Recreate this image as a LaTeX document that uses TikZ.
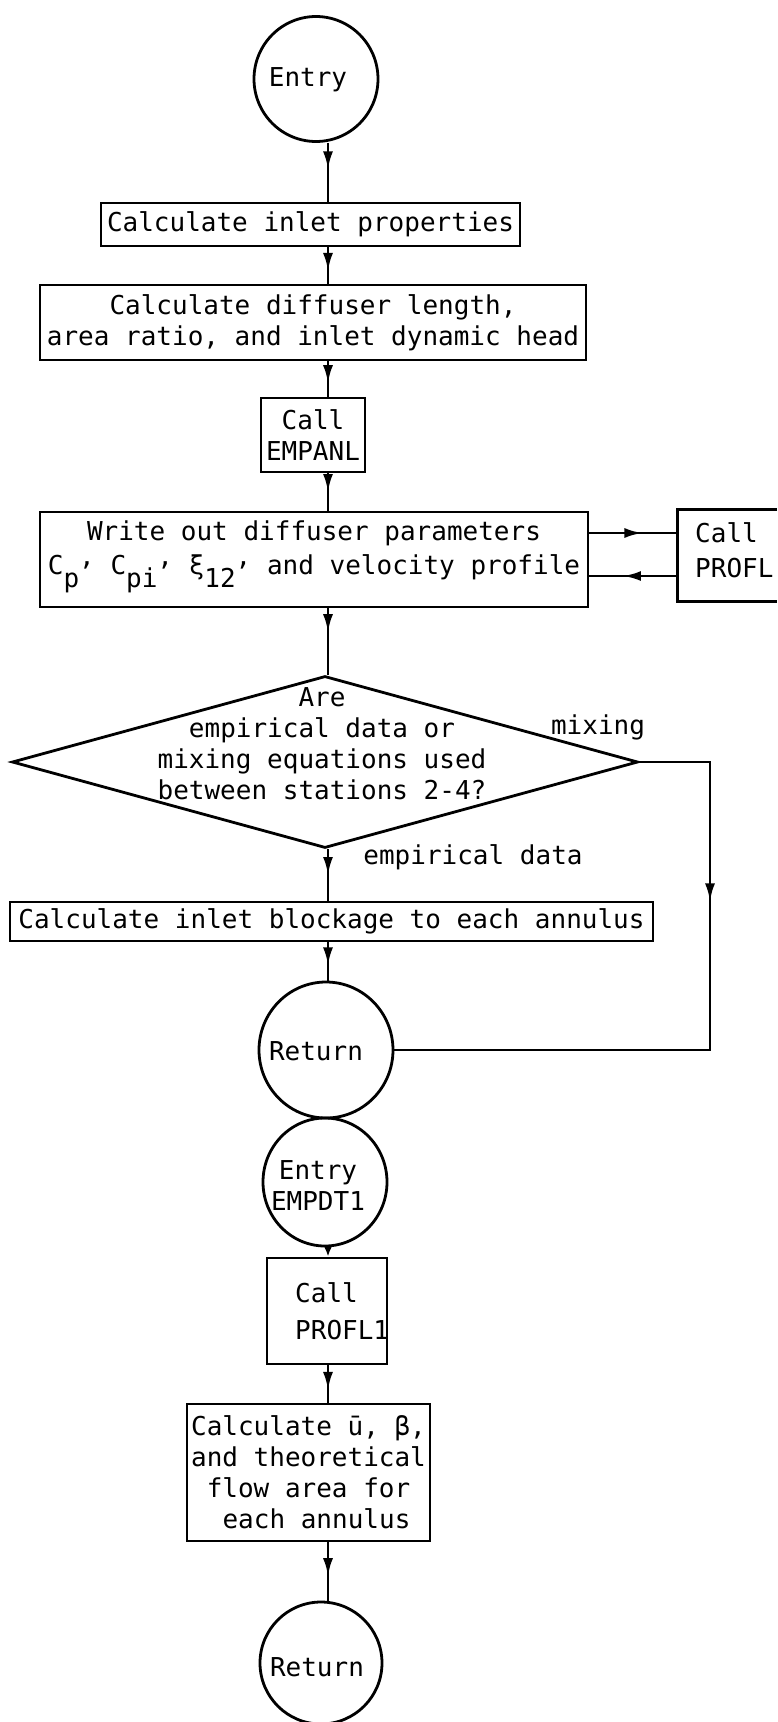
\documentclass[tikz,border=0pt]{standalone}
\usepackage{fontspec}
\setmonofont{DejaVu Sans Mono}
\usetikzlibrary{shapes.geometric,decorations.markings,arrows.meta}
\tikzset{
  txt/.style={font=\ttfamily\fontsize{26}{31}\selectfont, inner sep=0pt, align=center},
  box/.style={txt, draw, line width=2.8pt},
  openbox/.style={txt, minimum width=99pt, minimum height=91pt},
  term/.style={draw, ellipse, line width=2.8pt, inner sep=0pt},
  decis/.style={draw, diamond, line width=2.8pt, inner sep=0pt},
  conn/.style={line width=2.8pt},
  midarrow/.style={decoration={markings, mark=at position #1 with {\arrow{Latex[length=18pt,width=10pt]}}}, postaction={decorate}},
}
\newcommand{\sbx}[1]{\smash{\raisebox{-13pt}{#1}}}
\newcommand{\hcomma}{\raisebox{9pt}{,}}
\begin{document}
\begin{tikzpicture}[x=1pt,y=-1pt]
\useasboundingbox (0,0) rectangle (777,1722);
\coordinate (spine) at (328,0);
\coordinate (rx) at (710,0);
\coordinate (ua) at (0,533);
\coordinate (la) at (0,576);
% nodes
\node[term, minimum width=124pt, minimum height=125pt] (entry) at (316,79) {};
\node[txt] (entryt) at (308,80) {Entry};
\node[box, minimum width=419pt, minimum height=43pt] (b1) at (310.5,224.5) {Calculate inlet properties};
\node[box, minimum width=546pt, minimum height=75pt] (b2) at (313,322.5) {Calculate diffuser length,\\area ratio, and inlet dynamic head};
\node[box, minimum width=104pt, minimum height=74pt] (b3) at (313,435) {Call\\EMPANL};
\node[box, minimum width=548pt, minimum height=95pt] (b4) at (314,559.5) {};
\node[txt] (b4t) at (314,550) {Write out diffuser parameters\\[3pt]C\sbx{p}\hcomma{} C\sbx{pi}\hcomma{} ξ\sbx{12}\hcomma{} and velocity profile};
\node[openbox] (profl) at (727.5,555.5) {};
\draw[line width=2.8pt] (profl.north east) -- (profl.north west) -- (profl.south west) -- (profl.south east);
\node[txt, align=left, anchor=west] (proflt) at (695,550) {Call\\[4pt]PROFL};
\node[decis, minimum width=626pt, minimum height=172pt] (dec) at (325,762) {};
\node[txt] (dect) at (322,744) {Are\\empirical data or\\mixing equations used\\between stations 2-4?};
\node[txt] (mixl) at (598,727) {mixing};
\node[txt] (empl) at (473,857) {empirical data};
\node[box, minimum width=643pt, minimum height=39pt] (b5) at (331.5,921.5) {Calculate inlet blockage to each annulus};
\node[term, minimum width=134pt, minimum height=136pt] (ret1) at (326,1050) {};
\node[txt] (ret1t) at (316,1051) {Return};
\node[term, minimum width=124pt, minimum height=128pt] (emp) at (325,1182) {};
\node[txt] (empt) at (318,1186) {Entry\\EMPDT1};
\node[box, minimum width=120pt, minimum height=106pt] (p1) at (327,1311) {};
\node[txt, align=left, anchor=west] (p1t) at (295,1311) {Call\\[6pt]PROFL1};
\node[box, minimum width=243pt, minimum height=137pt] (calc) at (308.5,1472.5) {Calculate ū, β,\\and theoretical\\flow area for\\\hspace*{16pt}each annulus};
\node[term, minimum width=122pt, minimum height=122pt] (ret2) at (321,1663) {};
\node[txt] (ret2t) at (317,1667) {Return};
% connectors
\draw[conn, midarrow=0.45] (entry.south -| spine) -- (b1.north -| spine);
\draw[conn, midarrow=0.65] (b1.south -| spine) -- (b2.north -| spine);
\draw[conn, midarrow=0.62] (b2.south -| spine) -- (b3.north -| spine);
\draw[conn, midarrow=0.5] (b3.south -| spine) -- (b4.north -| spine);
\draw[conn, midarrow=0.36] (b4.south -| spine) -- (dec.north -| spine);
\draw[conn, midarrow=0.6] (b4.east |- ua) -- (profl.west |- ua);
\draw[conn, midarrow=0.62] (profl.west |- la) -- (b4.east |- la);
\draw[conn, midarrow=0.5] (dec.south -| spine) -- (b5.north -| spine);
\draw[conn, midarrow=0.6] (b5.south -| spine) -- (ret1.north -| spine);
\draw[conn, midarrow=210pt] (dec.east) -- (dec.east -| rx) -- (ret1.east -| rx) -- (ret1.east);
\draw[conn, -{Latex[length=10pt,width=8pt]}] (emp.south -| spine) -- (p1.north -| spine);
\draw[conn, midarrow=0.66] (p1.south -| spine) -- (calc.north -| spine);
\draw[conn, midarrow=0.58] (calc.south -| spine) -- (ret2.north -| spine);
\end{tikzpicture}
\end{document}
